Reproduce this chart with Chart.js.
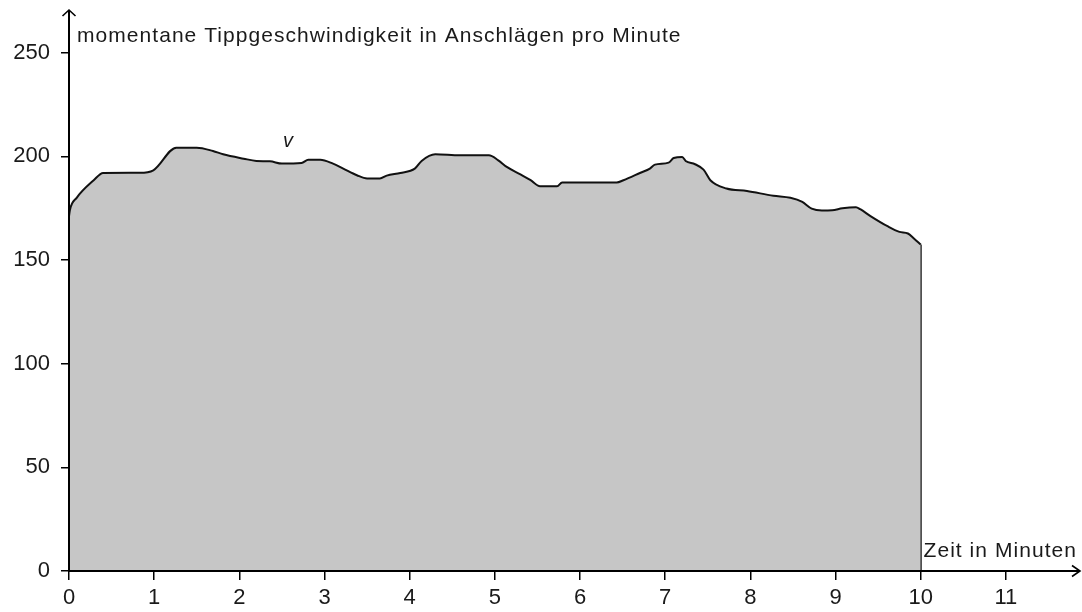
<!DOCTYPE html>
<html>
<head>
<meta charset="utf-8">
<script src="https://cdn.jsdelivr.net/npm/chart.js@4.4.1/dist/chart.umd.min.js"></script>
<style>
  html, body { margin: 0; padding: 0; background: #fff; }
  #wrap { width: 1082px; height: 612px; }
</style>
</head>
<body>
<div id="wrap"><canvas id="speedChart"></canvas></div>
<script>
// Zeit (min) und momentane Tippgeschwindigkeit (Anschläge/min)
const times = [0, 0.01, 0.09, 0.29, 0.40, 0.83, 0.99, 1.26, 1.50, 1.69, 1.81, 2.05, 2.20, 2.36, 2.50, 2.73, 2.81, 2.95,
    3.10, 3.22, 3.38, 3.50, 3.65, 3.73, 3.89, 4.06, 4.14, 4.30, 4.59, 4.93, 5.04, 5.14, 5.30, 5.42, 5.53, 5.73, 5.79,
    6.43, 6.51, 6.71, 6.82, 6.88, 7.04, 7.10, 7.20, 7.24, 7.35, 7.45, 7.53, 7.72, 7.96, 8.27, 8.47, 8.61, 8.72, 8.84,
    8.96, 9.08, 9.24, 9.29, 9.41, 9.61, 9.75, 9.85, 9.92, 10.0];
const speeds = [171, 174, 180, 188.5, 192, 192.1, 193.3, 204.2, 204.2, 202.6, 201, 198.9, 197.8, 197.6, 196.5, 196.8, 198.4, 198.4,
    196.5, 194.1, 190.9, 189.3, 189.3, 190.7, 192, 194.1, 197.8, 201, 200.5, 200.5, 198.1, 194.9, 191.3, 188.5, 185.6, 185.6, 187.4,
    187.4, 188.5, 192.1, 194.1, 196, 197, 199.2, 199.7, 197.8, 196.2, 193.6, 188.5, 184.5, 183.3, 181, 180, 178, 174.8, 173.9,
    174, 175, 175.5, 174.5, 171.2, 166.3, 163.6, 162.8, 160.4, 157.5];

const xTicks = [0, 1, 2, 3, 4, 5, 6, 7, 8, 9, 10, 11];
const yTicks = [0, 50, 100, 150, 200, 250];

const yTitle = 'momentane Tippgeschwindigkeit in Anschlägen pro Minute';
const xTitle = 'Zeit in Minuten';
const curveLabel = { x: 2.57, y: 207, text: 'v' };

const FONT = '"Liberation Sans", Arial, sans-serif';

const lastT = times[times.length - 1];
const lastV = speeds[speeds.length - 1];

const axesPlugin = {
    id: 'axesPlugin',
    afterDatasetsDraw(chart) {
        const { ctx, chartArea: a, scales } = chart;
        ctx.save();
        ctx.strokeStyle = '#000';
        ctx.lineWidth = 2;
        ctx.lineCap = 'butt';
        ctx.beginPath();
        ctx.moveTo(a.left, a.bottom);
        ctx.lineTo(a.left, a.top);
        ctx.moveTo(a.left, a.bottom);
        ctx.lineTo(a.right, a.bottom);
        ctx.stroke();

        // Pfeilspitzen
        ctx.lineWidth = 1.6;
        ctx.beginPath();
        ctx.moveTo(a.left - 6.5, a.top + 6);
        ctx.lineTo(a.left, a.top);
        ctx.lineTo(a.left + 6.5, a.top + 6);
        ctx.moveTo(a.right - 8, a.bottom - 5.5);
        ctx.lineTo(a.right, a.bottom);
        ctx.lineTo(a.right - 8, a.bottom + 5.5);
        ctx.stroke();

        ctx.fillStyle = '#1a1a1a';
        ctx.font = '21px ' + FONT;
        ctx.letterSpacing = '1.05px';
        ctx.textBaseline = 'alphabetic';
        ctx.textAlign = 'left';
        ctx.fillText(yTitle, a.left + 8, 42);
        ctx.textAlign = 'right';
        ctx.fillText(xTitle, a.right - 3, a.bottom - 14);

        ctx.letterSpacing = '0px';
        ctx.font = 'italic 20px ' + FONT;
        ctx.textAlign = 'center';
        ctx.textBaseline = 'middle';
        ctx.fillText(curveLabel.text, scales.x.getPixelForValue(curveLabel.x), scales.y.getPixelForValue(curveLabel.y));
        ctx.restore();
    }
};

const ctx = document.getElementById('speedChart').getContext('2d');
new Chart(ctx, {
    type: 'line',
    data: {
        datasets: [{
            data: times.map((t, i) => ({ x: t, y: speeds[i] })),
            borderColor: '#111',
            borderWidth: 2,
            backgroundColor: '#c6c6c6',
            fill: 'origin',
            pointRadius: 0,
            cubicInterpolationMode: 'monotone'
        }, {
            // senkrechter Abschluss bei t = 10
            data: [{ x: lastT, y: lastV }, { x: lastT, y: 0 }],
            borderColor: '#111',
            borderWidth: 2,
            fill: false,
            pointRadius: 0,
            tension: 0
        }]
    },
    options: {
        responsive: true,
        maintainAspectRatio: false,
        animation: false,
        layout: { padding: { top: 10, right: 2, left: 0, bottom: 0 } },
        plugins: {
            legend: { display: false },
            tooltip: { enabled: false }
        },
        scales: {
            x: {
                type: 'linear',
                min: 0,
                max: 11.87,
                afterBuildTicks: (scale) => { scale.ticks = xTicks.map(v => ({ value: v })); },
                afterFit: (scale) => {
                    scale.height = 41;
                    scale.paddingLeft = 0;
                    scale.paddingRight = 0;
                },
                border: { display: false },
                grid: { display: true, drawOnChartArea: false, drawTicks: true, tickLength: 9, color: '#000', lineWidth: 1.5 },
                ticks: { color: '#1a1a1a', font: { family: FONT, size: 22 }, padding: 5, maxRotation: 0 }
            },
            y: {
                min: 0,
                max: 270.6,
                afterBuildTicks: (scale) => { scale.ticks = yTicks.map(v => ({ value: v })); },
                afterFit: (scale) => {
                    scale.width = 69;
                    scale.paddingTop = 0;
                    scale.paddingBottom = 0;
                },
                border: { display: false },
                grid: { display: true, drawOnChartArea: false, drawTicks: true, tickLength: 8, color: '#000', lineWidth: 1.5 },
                ticks: { color: '#1a1a1a', font: { family: FONT, size: 22 }, padding: 11 }
            }
        }
    },
    plugins: [axesPlugin]
});
</script>
</body>
</html>
